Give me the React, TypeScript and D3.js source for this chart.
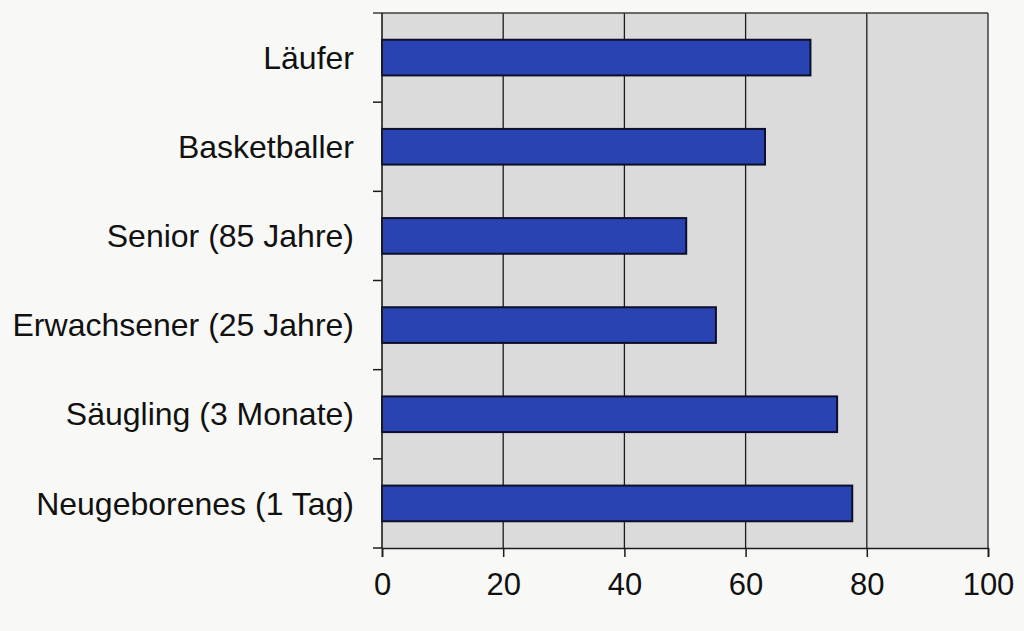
import React, { useEffect, useRef } from 'react';
import * as d3 from 'd3';

const categories = [
  'Läufer',
  'Basketballer',
  'Senior (85 Jahre)',
  'Erwachsener (25 Jahre)',
  'Säugling (3 Monate)',
  'Neugeborenes (1 Tag)',
];
const values = [70.7, 63.2, 50.2, 55.1, 75.1, 77.6];
const xTicks = [0, 20, 40, 60, 80, 100];

const W = 1024;
const H = 631;
const M = { left: 382, right: 988, top: 13, bottom: 548 };

const App: React.FC = () => {
  const svgRef = useRef<SVGSVGElement>(null);

  useEffect(() => {
    document.body.style.margin = '0';
    if (!svgRef.current) return;
    const svg = d3.select(svgRef.current);
    svg.selectAll('*').remove();

    const x = d3.scaleLinear().domain([0, 100]).range([M.left, M.right]);
    const y = d3
      .scaleBand<string>()
      .domain(categories)
      .range([M.top, M.bottom])
      .paddingInner(0.6)
      .paddingOuter(0.3);

    svg.append('rect').attr('width', W).attr('height', H).attr('fill', '#f8f9f6');

    // plot area
    svg
      .append('rect')
      .attr('x', M.left)
      .attr('y', M.top)
      .attr('width', M.right - M.left)
      .attr('height', M.bottom - M.top)
      .attr('fill', '#dcdbdc');

    // gridlines
    svg
      .append('g')
      .selectAll('line')
      .data(xTicks.slice(1, -1))
      .join('line')
      .attr('x1', d => x(d))
      .attr('x2', d => x(d))
      .attr('y1', M.top)
      .attr('y2', M.bottom)
      .attr('stroke', '#1c1c1c')
      .attr('stroke-width', 1.3);

    // borders top & right
    svg
      .append('line')
      .attr('x1', M.left - 9)
      .attr('x2', M.right)
      .attr('y1', M.top)
      .attr('y2', M.top)
      .attr('stroke', '#3a3f3c')
      .attr('stroke-width', 1.5);
    svg
      .append('line')
      .attr('x1', M.right)
      .attr('x2', M.right)
      .attr('y1', M.top)
      .attr('y2', M.bottom)
      .attr('stroke', '#3a3f3c')
      .attr('stroke-width', 1.5);

    // bars
    svg
      .append('g')
      .selectAll('rect')
      .data(categories)
      .join('rect')
      .attr('x', x(0))
      .attr('y', d => y(d)!)
      .attr('width', (d, i) => x(values[i]) - x(0))
      .attr('height', y.bandwidth())
      .attr('fill', '#2a43b2')
      .attr('stroke', '#0d0f2a')
      .attr('stroke-width', 2);

    // x axis
    const xAxis = svg
      .append('g')
      .attr('transform', `translate(0,${M.bottom})`)
      .call(d3.axisBottom(x).tickValues(xTicks).tickSize(9).tickPadding(16));
    xAxis.select('.domain').attr('stroke', '#1c1c1c').attr('stroke-width', 1.6);
    xAxis.selectAll('.tick line').attr('stroke', '#1c1c1c').attr('stroke-width', 1.5);
    xAxis
      .selectAll('.tick text')
      .attr('fill', '#111')
      .attr('font-family', '"Liberation Sans", Arial, sans-serif')
      .attr('font-size', 31);

    // y axis: line + boundary ticks
    svg
      .append('line')
      .attr('x1', M.left)
      .attr('x2', M.left)
      .attr('y1', M.top)
      .attr('y2', M.bottom)
      .attr('stroke', '#1c1c1c')
      .attr('stroke-width', 1.6);
    const step = y.step();
    const boundaries = categories.map((c, i) => M.top + step * (i + 1));
    svg
      .append('g')
      .selectAll('line')
      .data(boundaries)
      .join('line')
      .attr('x1', M.left - 9)
      .attr('x2', M.left)
      .attr('y1', d => d)
      .attr('y2', d => d)
      .attr('stroke', '#1c1c1c')
      .attr('stroke-width', 1.5);

    svg
      .append('g')
      .selectAll('text')
      .data(categories)
      .join('text')
      .attr('x', 354)
      .attr('y', d => y(d)! + y.bandwidth() / 2)
      .attr('dy', '0.35em')
      .attr('text-anchor', 'end')
      .attr('fill', '#111')
      .attr('font-family', '"Liberation Sans", Arial, sans-serif')
      .attr('font-size', 32)
      .text(d => d);
  }, []);

  return <svg ref={svgRef} width={W} height={H} style={{ display: 'block' }} />;
};

export default App;
